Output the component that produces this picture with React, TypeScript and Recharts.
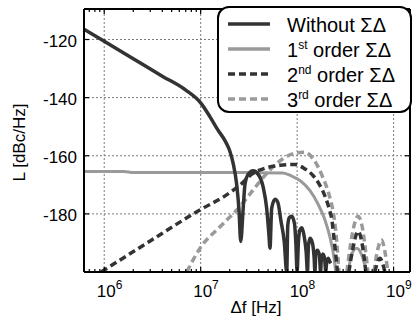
import { Legend, Line, LineChart, ReferenceLine, XAxis, YAxis } from "recharts";

const FONT = '"Liberation Sans", Arial, Helvetica, sans-serif';
const DARK = "#333333";
const LIGHT = "#9a9a9a";

// [frequency offset in Hz, phase noise in dBc/Hz]; null = gap between lobes
type Pt = [number, number | null];

const withoutSigmaDelta: Pt[] = [
  [6.17e5, -116.5], [1e6, -120.6], [2e6, -126.6], [4e6, -132.6], [7e6, -137.4],
  [1e7, -141.8], [1.25e7, -146.6], [1.5e7, -151], [1.8e7, -155], [2.0e7, -158.3],
  [2.18e7, -162.9], [2.36e7, -169.8], [2.5e7, -179], [2.6e7, -189.5],
  [2.76e7, -178], [2.88e7, -169.8], [3.11e7, -166.4], [3.5e7, -165.2], [3.95e7, -166.4],
  [4.46e7, -171], [4.83e7, -178], [5.1e7, -187.2], [5.23e7, -191.8],
  [5.45e7, -178], [5.9e7, -175], [6.3e7, -176], [6.8e7, -182.5], [7.35e7, -189.5], [7.8e7, -200],
  [8.0e7, -184], [8.3e7, -181.3], [8.8e7, -180.8], [9.4e7, -183.5], [9.7e7, -190], [1.0e8, -200],
  [1.03e8, -190], [1.07e8, -185.5], [1.12e8, -184.8], [1.18e8, -187.5], [1.24e8, -193], [1.28e8, -200],
  [1.31e8, -191], [1.36e8, -188.4], [1.44e8, -190], [1.5e8, -195], [1.53e8, -200],
  [1.56e8, -194], [1.62e8, -192.5], [1.7e8, -194], [1.75e8, -200],
  [1.78e8, -196], [1.85e8, -193.8], [1.93e8, -195.5], [1.98e8, -200],
  [2.02e8, -197], [2.1e8, -195.3], [2.18e8, -196.4], [2.24e8, -197],
];

const firstOrder: Pt[] = [
  [6.17e5, -165.4], [1.6e6, -165.4], [2.0e6, -165.8], [3e7, -165.8], [7.1e7, -165.9],
  [8.8e7, -167], [1.07e8, -168.5], [1.36e8, -172], [1.64e8, -176.5], [1.94e8, -182],
  [2.19e8, -188], [2.41e8, -195], [2.52e8, -200], [2.9e8, null],
  [3.39e8, -200], [3.67e8, -194], [4.14e8, -191.8], [4.66e8, -194], [5.25e8, -200],
];

const secondOrder: Pt[] = [
  [9.3e5, -200], [3e6, -189.3], [1e7, -178.5], [1.79e7, -173.8], [2.68e7, -169.5],
  [3.4e7, -166.3], [4.63e7, -164.3], [6.63e7, -163.3], [9.5e7, -163], [1.2e8, -164.5],
  [1.46e8, -166.8], [1.71e8, -170], [1.94e8, -173.8], [2.14e8, -178], [2.29e8, -182],
  [2.44e8, -190], [2.62e8, -200], [3e8, null],
  [3.44e8, -200], [3.78e8, -192], [4.3e8, -186], [4.7e8, -190], [5.16e8, -200], [5.8e8, null],
  [6.4e8, -200], [7.2e8, -195.3], [8.13e8, -200],
];

const thirdOrder: Pt[] = [
  [7.16e6, -200], [1e7, -191.5], [1.58e7, -184.5], [2.55e7, -177.5], [3.65e7, -171],
  [4.86e7, -166], [7.13e7, -161], [9.95e7, -159], [1.2e8, -158.8], [1.46e8, -161],
  [1.85e8, -167.5], [2.19e8, -174.5], [2.41e8, -181], [2.58e8, -190], [2.71e8, -200], [3e8, null],
  [3.28e8, -200], [3.6e8, -190], [3.97e8, -183], [4.27e8, -180.8], [4.7e8, -184], [5.05e8, -191],
  [5.42e8, -200], [5.8e8, null],
  [6.25e8, -200], [6.88e8, -192], [7.51e8, -189], [8.13e8, -193], [8.73e8, -200],
];

const decades = [1e6, 1e7, 1e8, 1e9];
const levelTicks = [-180, -160, -140, -120];
const minorSteps = [1, 2, 3, 4, 5, 6, 7, 8, 9];
const freqDomain: [number, number] = [6.17e5, 1.48e9];
const levelDomain: [number, number] = [-200, -109.5];

const freqTicks = [1e5, 1e6, 1e7, 1e8, 1e9]
  .flatMap((d) => minorSteps.map((m) => m * d))
  .filter((f) => f >= freqDomain[0] && f <= freqDomain[1]);

const toRows = (pts: Pt[]) => pts.map(([f, L]) => ({ f, L }));

const SERIES = [
  { key: "without", data: withoutSigmaDelta, color: DARK, width: 3.5, dash: undefined, lead: "Without ΣΔ", sup: "", rest: "" },
  { key: "first", data: firstOrder, color: LIGHT, width: 3, dash: undefined, lead: "1", sup: "st", rest: " order ΣΔ" },
  { key: "second", data: secondOrder, color: DARK, width: 3.5, dash: "7 4", lead: "2", sup: "nd", rest: " order ΣΔ" },
  { key: "third", data: thirdOrder, color: LIGHT, width: 3.5, dash: "7 4", lead: "3", sup: "rd", rest: " order ΣΔ" },
];
// light curves underneath, "Without" on top
const DRAW_ORDER = ["first", "third", "second", "without"];

function FreqTick({ x, y, payload, side }: any) {
  const v = payload.value as number;
  const exp = Math.round(Math.log10(v));
  const major = Math.abs(v - 10 ** exp) < 1e-6 * v;
  const dir = side === "top" ? 1 : -1;
  return (
    <g>
      <line x1={x} x2={x} y1={y} y2={y + dir * (major ? 5 : 3)} stroke="#000" strokeWidth={1.2} />
      {side === "bottom" && major && (
        <text x={x - 7.5} y={y + 25} fontSize={17} fontFamily={FONT} fill="#000">
          10
          <tspan dy={-8} fontSize={12}>
            {exp}
          </tspan>
        </text>
      )}
    </g>
  );
}

function LevelTick({ x, y, payload, side }: any) {
  const dir = side === "left" ? 1 : -1;
  return (
    <g>
      <line x1={x} x2={x + dir * 5} y1={y} y2={y} stroke="#000" strokeWidth={1.2} />
      {side === "left" && (
        <text x={x - 7} y={y + 7.5} textAnchor="end" fontSize={17} fontFamily={FONT} fill="#000">
          {payload.value}
        </text>
      )}
    </g>
  );
}

function AxisTitle({ px, py, rot, text }: { px: number; py: number; rot: number; text: string }) {
  return (
    <text
      x={px}
      y={py}
      textAnchor="middle"
      fontSize={17}
      fontFamily={FONT}
      fill="#000"
      transform={rot ? `rotate(${rot} ${px} ${py})` : undefined}
    >
      {text}
    </text>
  );
}

function LegendBox() {
  return (
    <svg width={195} height={107} style={{ display: "block" }}>
      <rect x={1} y={1} width={193} height={105} rx={11} ry={11} fill="#fff" stroke="#000" strokeWidth={2} />
      {SERIES.map((s, i) => {
        const cy = 18 + i * 25;
        return (
          <g key={s.key}>
            <line x1={11} x2={53} y1={cy} y2={cy} stroke={s.color} strokeWidth={3.5} strokeDasharray={s.dash} />
            <text x={70} y={cy + 7.5} fontSize={20} fontFamily={FONT} fill="#000" style={{ whiteSpace: "pre" }}>
              {s.lead}
              {s.sup && (
                <tspan dy={-8} fontSize={12}>
                  {s.sup}
                </tspan>
              )}
              {s.rest && <tspan dy={s.sup ? 8 : 0}>{s.rest}</tspan>}
            </text>
          </g>
        );
      })}
    </svg>
  );
}

export default function App() {
  const axisLine = { stroke: "#000", strokeWidth: 2 };
  return (
    <div style={{ position: "absolute", left: 0, top: 0, background: "#fff" }}>
      <LineChart width={413} height={321} margin={{ top: 0, right: 0, bottom: 0, left: 0 }}>
        <XAxis
          xAxisId="bottom"
          dataKey="f"
          type="number"
          scale="log"
          domain={freqDomain}
          allowDataOverflow
          ticks={freqTicks}
          interval={0}
          height={49}
          tickSize={0}
          tickMargin={0}
          tickLine={false}
          axisLine={axisLine}
          tick={(p: any) => <FreqTick {...p} side="bottom" />}
          label={<AxisTitle px={256} py={313} rot={0} text="Δf [Hz]" />}
        />
        <XAxis
          xAxisId="top"
          orientation="top"
          dataKey="f"
          type="number"
          scale="log"
          domain={freqDomain}
          allowDataOverflow
          ticks={freqTicks}
          interval={0}
          height={9}
          tickSize={0}
          tickMargin={0}
          tickLine={false}
          axisLine={axisLine}
          tick={(p: any) => <FreqTick {...p} side="top" />}
        />
        <YAxis
          yAxisId="left"
          type="number"
          domain={levelDomain}
          allowDataOverflow
          ticks={levelTicks}
          interval={0}
          width={84}
          tickSize={0}
          tickMargin={0}
          tickLine={false}
          axisLine={axisLine}
          tick={(p: any) => <LevelTick {...p} side="left" />}
          label={<AxisTitle px={25} py={142.5} rot={-90} text="L [dBc/Hz]" />}
        />
        <YAxis
          yAxisId="right"
          orientation="right"
          type="number"
          domain={levelDomain}
          allowDataOverflow
          ticks={levelTicks}
          interval={0}
          width={3}
          tickSize={0}
          tickMargin={0}
          tickLine={false}
          axisLine={axisLine}
          tick={(p: any) => <LevelTick {...p} side="right" />}
        />
        {decades.map((d) => (
          <ReferenceLine key={d} x={d} xAxisId="bottom" yAxisId="left" stroke="#7a7a7a" strokeDasharray="2 2" />
        ))}
        {levelTicks.map((v) => (
          <ReferenceLine key={v} y={v} xAxisId="bottom" yAxisId="left" stroke="#7a7a7a" strokeDasharray="2 2" />
        ))}
        {DRAW_ORDER.map((k) => {
          const s = SERIES.find((q) => q.key === k)!;
          return (
            <Line
              key={s.key}
              data={toRows(s.data)}
              dataKey="L"
              xAxisId="bottom"
              yAxisId="left"
              type="monotone"
              stroke={s.color}
              strokeWidth={s.width}
              strokeDasharray={s.dash}
              dot={false}
              activeDot={false}
              isAnimationActive={false}
            />
          );
        })}
        <Legend
          layout="vertical"
          align="center"
          verticalAlign="middle"
          wrapperStyle={{ left: 217, top: 6, width: 195, height: 107 }}
          content={() => <LegendBox />}
        />
      </LineChart>
    </div>
  );
}
